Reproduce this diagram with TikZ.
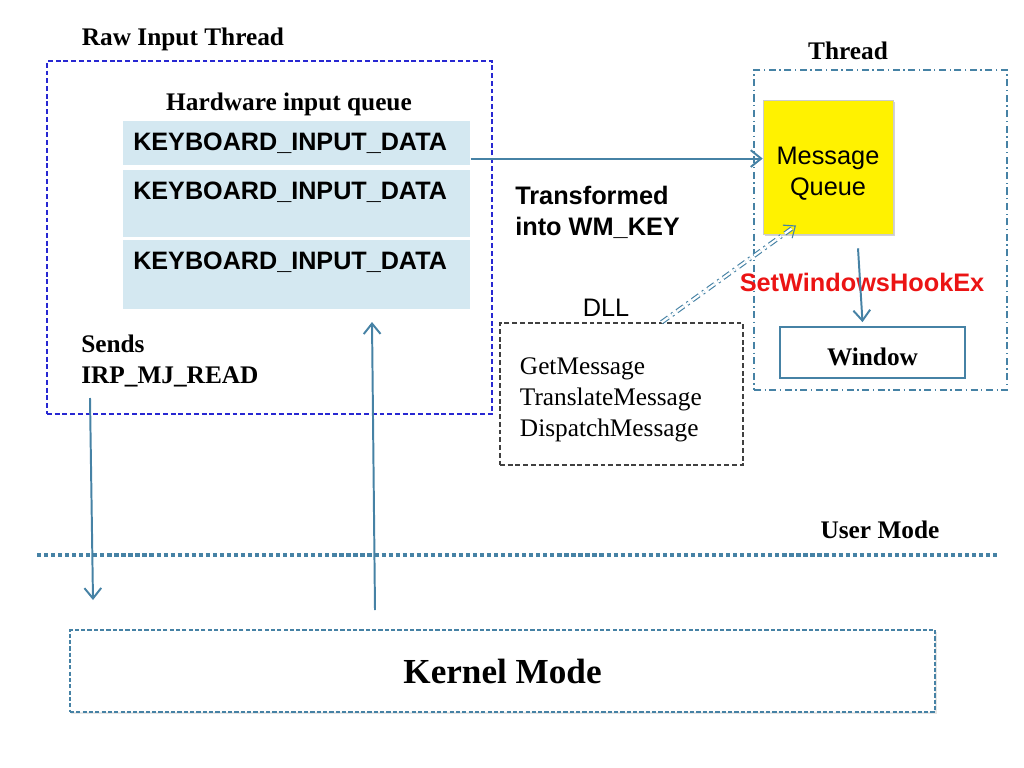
\documentclass[tikz,border=0pt]{standalone}
\usepackage{fontspec}
\setmainfont{Liberation Serif}
\setsansfont{Liberation Sans}
\usetikzlibrary{arrows.meta,shadows}
\definecolor{rawblue}{RGB}{40,40,210}
\definecolor{steel}{RGB}{70,130,165}
\definecolor{rowfill}{RGB}{212,232,241}
\definecolor{hookred}{RGB}{235,20,20}
\begin{document}
\begin{tikzpicture}[x=0.025cm,y=-0.025cm,
    serifbf/.style={font=\fontsize{18}{21.5}\selectfont\bfseries, inner sep=0pt},
    sansbf/.style={font=\fontsize{18}{22}\selectfont\sffamily\bfseries, inner sep=0pt},
    kbdrow/.style={rectangle, fill=rowfill, anchor=north west, minimum width=8.675cm,
      text width=8.175cm, align=left, inner xsep=0.25cm, inner ysep=0.3cm,
      text height=0.44cm, font=\fontsize{17.9}{21}\selectfont\sffamily\bfseries},
    flow/.style={draw=steel, line width=1.4pt, -{Straight Barb[length=2.6mm,width=4.2mm]}}]
  \useasboundingbox (0,0) rectangle (1024,768);
  % boxes
  \node[draw=rawblue, dash pattern=on 3.5pt off 2pt, line width=0.9pt, minimum width=11.125cm, minimum height=8.825cm] (raw) at (269.5,237.5) {};
  \node[draw=steel, dash pattern=on 5pt off 2.5pt on 1pt off 2.5pt, line width=0.8pt, minimum width=6.325cm, minimum height=8cm] (thread) at (880.5,230) {};
  \node[draw=black!75, dash pattern=on 3.5pt off 2pt, line width=0.9pt, minimum width=6.075cm, minimum height=3.55cm,
    text width=5.075cm, inner xsep=0.5cm, align=left, text height=0.72cm,
    font=\fontsize{18}{22}\selectfont] (dll) at (621.5,394)
    {GetMessage\\TranslateMessage\\DispatchMessage};
  \node[draw=black!20, fill=yellow, minimum width=3.25cm, minimum height=3.35cm, text width=3cm, align=center, text height=0.76cm,
    drop shadow={opacity=0.35, shadow xshift=0.06cm, shadow yshift=-0.06cm},
    font=\fontsize{18}{22}\selectfont\sffamily] (mq) at (828,167) {Message\\Queue};
  \node[draw=steel, line width=1.2pt, minimum width=4.625cm, minimum height=1.275cm, text height=0.65cm, text depth=0pt,
    font=\fontsize{18}{21.5}\selectfont\bfseries] (win) at (872.5,352.5) {Window};
  \node[draw=steel, dash pattern=on 3pt off 1.5pt, line width=1.1pt, minimum width=21.625cm, minimum height=2.05cm,
    drop shadow={opacity=0.2, shadow xshift=0.04cm, shadow yshift=-0.04cm}, fill=white,
    font=\fontsize{25}{30}\selectfont\bfseries] (kernel) at (502.5,671) {Kernel Mode};
  % hardware input queue
  \node[kbdrow, text depth=0.06cm] (kbd1) at (123,121) {KEYBOARD\_INPUT\_DATA};
  \node[kbdrow, text depth=0.635cm] (kbd2) at (123,170) {KEYBOARD\_INPUT\_DATA};
  \node[kbdrow, text depth=0.685cm] (kbd3) at (123,240) {KEYBOARD\_INPUT\_DATA};
  % labels
  \node[serifbf] (rawlbl) at (183,39) {Raw Input Thread};
  \node[serifbf] (hwlbl) at (289,104) {Hardware input queue};
  \node[serifbf] (threadlbl) at (848,51) {Thread};
  \node[serifbf, anchor=west, align=left] (sends) at (81,361) {Sends\\IRP\_MJ\_READ};
  \node[sansbf, anchor=west, align=left] (wmkey) at (515,212) {Transformed\\into WM\_KEY};
  \node[font=\fontsize{18}{22}\selectfont\sffamily, inner sep=0pt] (dlllbl) at (606,308) {DLL};
  \node[font=\fontsize{18}{22}\selectfont\sffamily\bfseries, text=hookred, inner sep=0pt] (hook) at (862,282) {SetWindowsHookEx};
  \node[serifbf] (usermode) at (880,530) {User Mode};
  % free ends
  \coordinate (irptop) at (90,398);
  \coordinate (irpbot) at (93,600);
  \coordinate (upbot) at (375,610);
  \coordinate (uptop) at (372,322);
  \coordinate (lineW) at (37,555);
  \coordinate (lineE) at (997,555);
  \begin{scope}
    \draw[steel, line width=3pt, dotted] (lineW) -- (lineE);
    \draw[flow] ([yshift=0.175cm]kbd1.south east) -- ([yshift=0.175cm]kbd1.south east -| mq.west);
    \draw[flow] (irptop) -- (irpbot);
    \draw[flow] (upbot) -- (uptop);
    \draw[flow] ([xshift=0.75cm,yshift=-0.35cm]mq.south) -- ([xshift=-0.25cm,yshift=0.1cm]win.north);
    \draw[steel, line width=0.8pt, double=white, double distance=1.6pt, dash pattern=on 6pt off 3pt on 1.5pt off 3pt,
      -{Straight Barb[length=2.4mm,width=4mm]}] ([xshift=1cm]dll.north) -- ([xshift=-0.8cm,yshift=0.22cm]mq.south);
  \end{scope}
\end{tikzpicture}
\end{document}
